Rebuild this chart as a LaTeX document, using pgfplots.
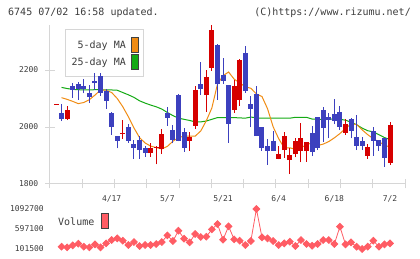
\documentclass[border=0pt]{standalone}
\usepackage{pgfplots}
\pgfplotsset{compat=1.18}
\usepackage{pgfplotstable}
\usepackage{fontspec}
\setmonofont{DejaVu Sans Mono}

\definecolor{axgray}{RGB}{214,214,214}
\definecolor{upred}{RGB}{214,0,0}
\definecolor{downblue}{RGB}{60,64,190}
\definecolor{maorange}{RGB}{240,140,20}
\definecolor{magreen}{RGB}{20,170,20}
\definecolor{volred}{RGB}{255,92,100}
\definecolor{txt}{RGB}{60,60,60}

% daily candles: index, open, high, low, close
\pgfplotstableread{
i o h l c
0 2078.5 2081.5 2078.5 2081.5
2 2028 2074 2024 2058
12 1976 2025 1958 1980
17 1908 1945 1896 1927
18 1928 1935 1869 1931
19 1922 1993 1905 1975
24 1952 1982 1917 1966
25 2004 2144 1994 2130
27 2112 2200 2054 2177
28 2208 2358 2198 2340
32 2060 2165 2050 2144
33 2095 2237 2074 2235
40 1888 1933 1886 1904
41 1919 1981 1892 1968
42 1884 1927 1835 1902
43 1905 1960 1893 1951
44 1917 2013 1876 1960
45 1917 1948 1878 1946
52 1980 2028 1972 2009
56 1899 1940 1888 1931
60 1875 2019 1867 2007
}\upT

\pgfplotstableread{
i o h l c
1 2049 2080 2021 2028
3 2144 2156 2103 2131
4 2150 2158 2096 2133
5 2144 2167 2118 2132
6 2118 2148 2084 2106
7 2161 2190 2130 2153
8 2179 2188 2109 2120
9 2126 2132 2064 2092
10 2050 2052 1972 2001
11 1968 1970 1925 1952
13 1999 2011 1945 1952
14 1940 1954 1887 1927
15 1954 1970 1887 1919
16 1925 1935 1895 1908
20 2048 2069 2004 2033
21 1989 2006 1943 1954
22 2112 2116 1950 1952
23 1982 1998 1913 1928
26 2151 2228 2112 2135
29 2288 2291 2095 2150
30 2182 2243 2151 2163
31 2147 2148 1945 2011
34 2261 2284 2120 2126
35 2081 2109 1999 2064
36 2116 2144 1968 1968
37 2001 2001 1917 1928
38 1933 1959 1867 1917
39 1951 1986 1916 1917
46 1978 2004 1898 1914
47 2034 2036 1919 1928
48 2060 2069 1949 1998
49 2034 2048 1960 2025
50 2045 2100 2009 2021
51 2051 2074 1989 2001
53 2028 2030 1960 1987
54 1964 2042 1919 1934
55 1952 1966 1919 1935
57 1986 2001 1899 1952
58 1954 1955 1917 1935
59 1962 1963 1861 1892
}\downT

% moving averages and volume
\pgfplotstableread{
i ma5 ma25 v
1 2103 2139 159000
2 2097 2135 142000
3 2090 2132 191000
4 2082 2131 233000
5 2086 2130 159000
6 2096 2130 142000
7 2112 2131 216000
8 2130 2131 142000
9 2129 2130 241000
10 2121 2130 324000
11 2100 2129 365000
12 2071 2121 307000
13 2036 2113 200000
14 1997 2104 274000
15 1963 2092 175000
16 1944 2084 200000
17 1933 2077 200000
18 1928 2071 225000
19 1923 2063 274000
20 1932 2051 439000
21 1950 2040 299000
22 1963 2031 555000
23 1968 2027 357000
24 1968 2023 266000
25 1968 2018 473000
26 1986 2018 398000
27 2022 2021 406000
28 2067 2027 588000
29 2150 2033 720000
30 2180 2033 332000
31 2193 2033 663000
32 2168 2033 340000
33 2155 2032 307000
34 2141 2031 200000
35 2136 2035 299000
36 2116 2032 1092700
37 2107 2031 390000
38 2064 2031 365000
39 2001 2031 299000
40 1959 2031 200000
41 1927 2031 241000
42 1927 2031 283000
43 1922 2034 175000
44 1928 2034 324000
45 1937 2034 225000
46 1945 2028 183000
47 1935 2027 225000
48 1940 2027 324000
49 1949 2027 324000
50 1962 2029 225000
51 1977 2027 655000
52 1995 2024 216000
53 2011 2017 266000
54 2009 2008 159000
55 1990 1996 101500
56 1973 1987 159000
57 1959 1983 307000
58 1948 1973 159000
59 1937 1963 216000
60 1929 1956 241000
}\dailyT

\begin{document}
\begin{tikzpicture}[x=1bp,y=1bp]
\path[use as bounding box] (0,0) rectangle (420,259);

% header
\node[anchor=west, inner sep=0, text=txt, font=\ttfamily\fontsize{10bp}{12bp}\selectfont] at (8,246) {6745 07/02 16:58 updated.};
\node[anchor=east, inner sep=0, text=txt, font=\ttfamily\fontsize{10bp}{12bp}\selectfont] at (411,246) {(C)https://www.rizumu.net/};

% moving-average key
\draw[axgray, line width=1bp, fill=white] (65,182) rectangle (143,229);
\node[anchor=east, inner sep=0, text=txt, font=\ttfamily\fontsize{10bp}{12bp}\selectfont] at (126,213) {5-day MA};
\draw[black!75, line width=0.8bp, fill=maorange] (131,207) rectangle (138,222);
\node[anchor=east, inner sep=0, text=txt, font=\ttfamily\fontsize{10bp}{12bp}\selectfont] at (126,196) {25-day MA};
\draw[black!75, line width=0.8bp, fill=magreen] (131,190) rectangle (138,205);

% price panel
\begin{axis}[
  at={(50bp,75bp)}, anchor=south west, scale only axis,
  width=355bp, height=159bp,
  xmin=-1.078, xmax=62.69, ymin=1800, ymax=2358,
  clip=false,
  axis x line*=bottom, axis y line*=left,
  axis line style={axgray, line width=1bp},
  tick style={axgray, line width=1bp},
  tick align=center, major tick length=9bp,
  xtick={-1.078,4.719,10.516,16.313,22.11,27.907,33.704,39.5,45.3,51.1,56.89,62.69},
  xticklabels={},
  extra x ticks={10,20,30,40,50,60},
  extra x tick labels={4/17,5/7,5/21,6/4,6/18,7/2},
  extra x tick style={tick style={draw=none}},
  xticklabel style={font=\ttfamily\fontsize{8bp}{9bp}\selectfont, text=txt, anchor=center, inner sep=0pt, yshift=-10bp},
  ytick={1800,2000,2200},
  yticklabels={1800,2000,2200},
  yticklabel style={font=\ttfamily\fontsize{8bp}{9bp}\selectfont, text=txt, anchor=east, inner sep=0pt, xshift=-7bp},
  candle/.style={draw=none, mark=none, forget plot,
    error bars/.cd, y dir=plus, y explicit, error mark=none},
]
\addplot[magreen, line width=1bp] table[x=i, y=ma25] {\dailyT};
\addplot[maorange, line width=1bp] table[x=i, y=ma5] {\dailyT};
% wicks
\addplot[candle, error bar style={line width=1bp, draw=upred}]
  table[x=i, y=l, y error plus expr=\thisrow{h}-\thisrow{l}] {\upT};
\addplot[candle, error bar style={line width=1bp, draw=downblue}]
  table[x=i, y=l, y error plus expr=\thisrow{h}-\thisrow{l}] {\downT};
% bodies
\addplot[candle, error bar style={line width=5bp, draw=upred}]
  table[x=i, y=o, y error plus expr=\thisrow{c}-\thisrow{o}] {\upT};
\addplot[candle, error bar style={line width=5bp, draw=downblue}]
  table[x=i, y=c, y error plus expr=\thisrow{o}-\thisrow{c}] {\downT};
\end{axis}

% volume panel
\begin{axis}[
  at={(50bp,10bp)}, anchor=south west, scale only axis,
  width=355bp, height=40bp,
  xmin=-1.078, xmax=62.69, ymin=101500, ymax=1092700,
  clip=false, axis line style={draw=none},
  scaled y ticks=false,
  xtick=\empty, major tick length=0pt,
  ytick={101500,597100,1092700},
  yticklabels={101500,597100,1092700},
  yticklabel style={font=\ttfamily\fontsize{8bp}{9bp}\selectfont, text=txt, anchor=east, inner sep=0pt, xshift=-6bp},
]
\addplot[volred, line width=0.8bp, mark=square*, mark size=2.4bp,
  mark options={rotate=45, fill=volred, draw=volred}] table[x=i, y=v] {\dailyT};
\end{axis}

\node[anchor=west, inner sep=0, text=txt, font=\ttfamily\fontsize{10bp}{12bp}\selectfont] at (58,37) {Volume};
\draw[black!75, line width=0.8bp, fill=volred] (101,31) rectangle (108,46);
\end{tikzpicture}
\end{document}
